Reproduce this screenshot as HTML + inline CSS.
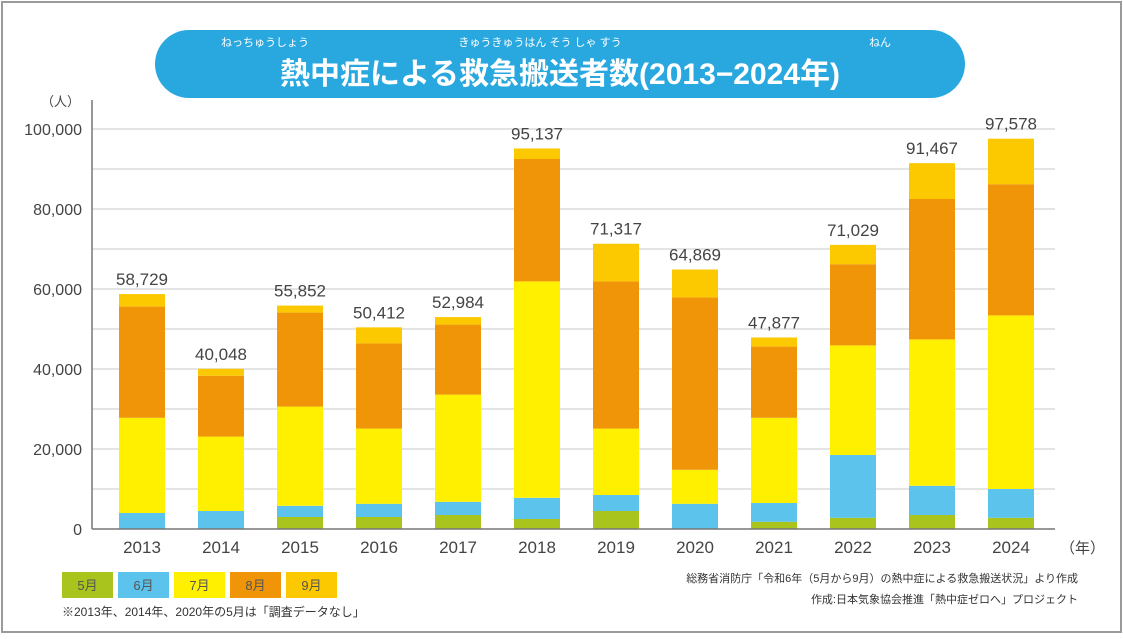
<!DOCTYPE html>
<html><head><meta charset="utf-8"><style>
body{margin:0;background:#fff;width:1123px;height:634px;overflow:hidden;font-family:"Liberation Sans","Noto Sans CJK JP",sans-serif}
</style></head><body>
<svg id="chart" width="1123" height="634" xmlns="http://www.w3.org/2000/svg" font-family="Liberation Sans, Noto Sans CJK JP, sans-serif">
<rect x="2" y="2" width="1119" height="630" fill="#fff" stroke="#9a9a9a" stroke-width="2"/>
<rect x="155" y="30" width="810" height="68" rx="34" fill="#29a8e0"/>
<text x="560" y="84" text-anchor="middle" font-size="30" font-weight="bold" fill="#fff">熱中症による救急搬送者数(2013−2024年)</text>
<text x="265" y="46" text-anchor="middle" font-size="11" fill="#fff">ねっちゅうしょう</text>
<text x="540" y="46" text-anchor="middle" font-size="11" fill="#fff">きゅうきゅうはん そう しゃ すう</text>
<text x="880" y="46" text-anchor="middle" font-size="11" fill="#fff">ねん</text>
<g id="grid"></g><g id="bars"></g><g id="axes"></g>
<g id="legend"></g>
<text x="62" y="616" font-size="12" fill="#333">※2013年、2014年、2020年の5月は「調査データなし」</text>
<text x="1078" y="582" text-anchor="end" font-size="11" fill="#333">総務省消防庁「令和6年（5月から9月）の熱中症による救急搬送状況」より作成</text>
<text x="1078" y="603" text-anchor="end" font-size="11" fill="#333">作成:日本気象協会推進「熱中症ゼロへ」プロジェクト</text>
</svg>
<script>
const years=["2013","2014","2015","2016","2017","2018","2019","2020","2021","2022","2023","2024"];
const may=[0,0,3000,3000,3500,2500,4500,0,1800,2800,3500,2800];
const jun=[4000,4500,2800,3300,3300,5300,4000,6300,4700,15700,7300,7200];
const jul=[23800,18600,24800,18800,26800,54100,16600,8500,21300,27400,36600,43400];
const aug=[27800,15200,23500,21300,17500,30600,36800,43100,17800,20300,35100,32800];
const totals=[58729,40048,55852,50412,52984,95137,71317,64869,47877,71029,91467,97578];
const yTicks=[0,20000,40000,60000,80000,100000];
const monthLabels=["5月","6月","7月","8月","9月"];
const colors=["#a9c41c","#5cc3ec","#fff000","#f09508","#fcc800"];
const NS="http://www.w3.org/2000/svg";
const y0=529,y1=129,vmax=100000,x0=92,xEnd=1055;
const Y=v=>y0-(v/vmax)*(y0-y1);
const X=i=>142+i*79.0;
const bw=46;
function mk(t,a,p){const e=document.createElementNS(NS,t);for(const k in a)e.setAttribute(k,a[k]);p.appendChild(e);return e;}
const g=document.getElementById('grid'),b=document.getElementById('bars'),ax=document.getElementById('axes'),lg=document.getElementById('legend');
for(let v=10000;v<=vmax;v+=10000){const l=mk('line',{x1:x0,x2:xEnd,y1:Y(v),y2:Y(v),stroke:'#dcdcdc','stroke-width':1.5},g);

}
yTicks.forEach(v=>{const t=mk('text',{x:82,y:Y(v)+6,'text-anchor':'end','font-size':16,fill:'#444'},ax);t.textContent=v.toLocaleString('en-US');

});
const u=mk('text',{x:80,y:106,'text-anchor':'end','font-size':13,fill:'#444'},ax);u.textContent='（人）';


const va=mk('line',{x1:x0,x2:x0,y1:100,y2:y0,stroke:'#777','stroke-width':1.5},ax);


const ha=mk('line',{x1:x0,x2:xEnd,y1:y0,y2:y0,stroke:'#777','stroke-width':1.5},ax);


years.forEach((yr,i)=>{
 const sep=[may[i],jun[i],jul[i],aug[i],totals[i]-may[i]-jun[i]-jul[i]-aug[i]];
 let c=0;
 sep.forEach((v,k)=>{if(v<=0)return;const r=mk('rect',{x:X(i)-bw/2,y:Y(c+v),width:bw,height:Y(c)-Y(c+v),fill:colors[k]},b);
 
 
 c+=v;});
 const t=mk('text',{x:X(i),y:Y(totals[i])-9,'text-anchor':'middle','font-size':17,fill:'#444'},b);t.textContent=totals[i].toLocaleString('en-US');
 
 
 const xl=mk('text',{x:X(i),y:553,'text-anchor':'middle','font-size':17,fill:'#444'},ax);xl.textContent=yr;
 
 
});
const yu=mk('text',{x:1060,y:553,'font-size':15,fill:'#444'},ax);yu.textContent='（年）';


monthLabels.forEach((m,k)=>{const r=mk('rect',{x:62+k*56,y:572,width:51,height:26,fill:colors[k]},lg);


const t=mk('text',{x:62+k*56+25.5,y:590,'text-anchor':'middle','font-size':13,fill:'#555'},lg);t.textContent=m;

});
</script>
</body></html>
